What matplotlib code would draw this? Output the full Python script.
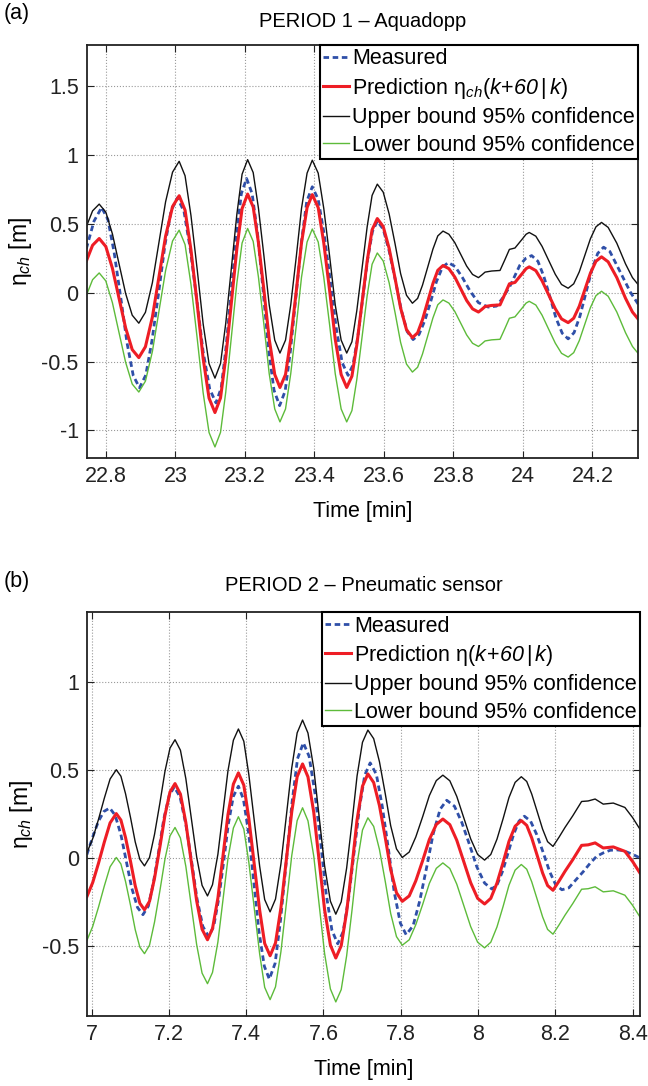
import numpy as np
import matplotlib
matplotlib.use("Agg")
import matplotlib.pyplot as plt
from matplotlib.ticker import FormatStrFormatter

plt.rcParams['font.family'] = ['Liberation Sans', 'DejaVu Sans']
plt.rcParams['mathtext.fontset'] = 'custom'
plt.rcParams['mathtext.rm'] = 'Liberation Sans'
plt.rcParams['mathtext.it'] = 'Liberation Sans:italic'
plt.rcParams['mathtext.cal'] = 'Liberation Sans:italic'  # used for italic digits
plt.rcParams['mathtext.sf'] = 'Liberation Sans'
plt.rcParams['axes.unicode_minus'] = False

# ---- panel (a): PERIOD 1 - Aquadopp ----
t1_meas = [22.744, 22.766, 22.788, 22.806, 22.824, 22.843, 22.861, 22.879, 22.897, 22.915,
           22.933, 22.952, 22.970, 22.988, 23.006, 23.025, 23.043, 23.062, 23.080, 23.099,
           23.117, 23.132, 23.146, 23.161, 23.176, 23.190, 23.205, 23.221, 23.237, 23.253,
           23.268, 23.284, 23.300, 23.316, 23.331, 23.347, 23.363, 23.378, 23.394, 23.411,
           23.428, 23.446, 23.463, 23.480, 23.497, 23.511, 23.525, 23.539, 23.553, 23.567,
           23.581, 23.598, 23.615, 23.633, 23.650, 23.667, 23.684, 23.701, 23.718, 23.735,
           23.751, 23.768, 23.785, 23.805, 23.826, 23.848, 23.872, 23.900, 23.924, 23.944,
           23.963, 23.978, 23.991, 24.008, 24.025, 24.043, 24.060, 24.078, 24.095, 24.113,
           24.130, 24.147, 24.164, 24.181, 24.198, 24.215, 24.232, 24.250, 24.270, 24.290,
           24.310, 24.336]
y1_meas = [0.32, 0.52, 0.62, 0.532, 0.293, -0.035, -0.363, -0.602, -0.69, -0.598,
           -0.345, 0.0, 0.345, 0.598, 0.69, 0.590, 0.318, -0.055, -0.428, -0.700,
           -0.80, -0.691, -0.393, 0.015, 0.423, 0.721, 0.83, 0.719, 0.418, 0.005,
           -0.408, -0.709, -0.82, -0.713, -0.423, -0.025, 0.373, 0.663, 0.77, 0.678,
           0.428, 0.085, -0.258, -0.508, -0.60, -0.525, -0.32, -0.04, 0.24, 0.445,
           0.52, 0.462, 0.305, 0.09, -0.125, -0.282, -0.34, -0.303, -0.20, -0.06,
           0.08, 0.183, 0.22, 0.19, 0.11, 0.012, -0.072, -0.104, -0.097, -0.03,
           0.05, 0.13, 0.20, 0.25, 0.27, 0.229, 0.119, -0.033, -0.184, -0.294,
           -0.335, -0.290, -0.169, -0.002, 0.165, 0.286, 0.331, 0.30, 0.20, 0.10,
           0.0, -0.10]

t1_pred = [22.744, 22.762, 22.781, 22.800, 22.819, 22.838, 22.857, 22.876, 22.895, 22.914,
           22.934, 22.953, 22.972, 22.992, 23.011, 23.028, 23.045, 23.063, 23.080, 23.097,
           23.114, 23.130, 23.145, 23.161, 23.177, 23.192, 23.208, 23.224, 23.239, 23.255,
           23.270, 23.286, 23.301, 23.317, 23.332, 23.348, 23.363, 23.379, 23.394, 23.411,
           23.427, 23.444, 23.460, 23.477, 23.493, 23.508, 23.522, 23.537, 23.552, 23.566,
           23.581, 23.598, 23.615, 23.632, 23.648, 23.665, 23.682, 23.697, 23.711, 23.726,
           23.741, 23.755, 23.770, 23.787, 23.804, 23.821, 23.838, 23.855, 23.872, 23.882,
           23.891, 23.910, 23.934, 23.948, 23.961, 23.977, 23.998, 24.009, 24.018, 24.037,
           24.055, 24.074, 24.093, 24.111, 24.130, 24.146, 24.162, 24.178, 24.194, 24.210,
           24.226, 24.245, 24.270, 24.295, 24.315, 24.336]
y1_pred = [0.23, 0.345, 0.394, 0.336, 0.178, -0.039, -0.255, -0.413, -0.471, -0.392,
           -0.177, 0.117, 0.411, 0.626, 0.705, 0.600, 0.311, -0.083, -0.476, -0.765,
           -0.870, -0.764, -0.473, -0.077, 0.320, 0.611, 0.717, 0.623, 0.366, 0.015,
           -0.337, -0.594, -0.688, -0.594, -0.338, 0.013, 0.363, 0.619, 0.713, 0.619,
           0.363, 0.013, -0.338, -0.594, -0.688, -0.606, -0.381, -0.075, 0.232, 0.457,
           0.539, 0.481, 0.323, 0.107, -0.110, -0.268, -0.326, -0.291, -0.195, -0.064,
           0.067, 0.163, 0.198, 0.175, 0.114, 0.029, -0.056, -0.117, -0.140, -0.120,
           -0.100, -0.092, -0.088, -0.010, 0.065, 0.075, 0.140, 0.175, 0.188, 0.161,
           0.087, -0.015, -0.116, -0.190, -0.217, -0.185, -0.098, 0.022, 0.142, 0.229,
           0.261, 0.225, 0.110, -0.040, -0.140, -0.205]
y1_upper = [0.48, 0.595, 0.644, 0.586, 0.428, 0.211, -0.005, -0.163, -0.221, -0.142,
            0.073, 0.367, 0.661, 0.876, 0.955, 0.850, 0.561, 0.167, -0.226, -0.515,
            -0.620, -0.514, -0.223, 0.173, 0.570, 0.861, 0.967, 0.873, 0.616, 0.265,
            -0.087, -0.344, -0.438, -0.344, -0.088, 0.263, 0.613, 0.869, 0.963, 0.869,
            0.613, 0.263, -0.088, -0.344, -0.438, -0.356, -0.131, 0.175, 0.482, 0.707,
            0.789, 0.731, 0.573, 0.357, 0.140, -0.018, -0.076, -0.041, 0.055, 0.186,
            0.317, 0.413, 0.448, 0.425, 0.364, 0.279, 0.194, 0.133, 0.110, 0.130,
            0.150, 0.158, 0.162, 0.240, 0.315, 0.325, 0.390, 0.425, 0.438, 0.411,
            0.337, 0.235, 0.134, 0.060, 0.033, 0.065, 0.152, 0.272, 0.392, 0.479,
            0.511, 0.475, 0.360, 0.210, 0.110, 0.045]
y1_lower = [-0.02, 0.095, 0.144, 0.086, -0.072, -0.289, -0.505, -0.663, -0.721, -0.642,
            -0.427, -0.133, 0.161, 0.376, 0.455, 0.350, 0.061, -0.333, -0.726, -1.015,
            -1.120, -1.014, -0.723, -0.327, 0.070, 0.361, 0.467, 0.373, 0.116, -0.235,
            -0.587, -0.844, -0.938, -0.844, -0.588, -0.237, 0.113, 0.369, 0.463, 0.369,
            0.113, -0.237, -0.588, -0.844, -0.938, -0.856, -0.631, -0.325, -0.018, 0.207,
            0.289, 0.231, 0.073, -0.143, -0.360, -0.518, -0.576, -0.541, -0.445, -0.314,
            -0.183, -0.087, -0.052, -0.075, -0.136, -0.221, -0.306, -0.367, -0.390, -0.370,
            -0.350, -0.342, -0.338, -0.260, -0.185, -0.175, -0.110, -0.075, -0.062, -0.089,
            -0.163, -0.265, -0.366, -0.440, -0.467, -0.435, -0.348, -0.228, -0.108, -0.021,
            0.011, -0.025, -0.140, -0.290, -0.390, -0.455]

# ---- panel (b): PERIOD 2 - Pneumatic sensor ----
t2_meas = [6.988, 7.003, 7.018, 7.032, 7.047, 7.061, 7.076, 7.090, 7.104, 7.119,
           7.133, 7.147, 7.160, 7.174, 7.187, 7.201, 7.214, 7.229, 7.244, 7.259,
           7.273, 7.288, 7.303, 7.316, 7.329, 7.342, 7.354, 7.367, 7.380, 7.393,
           7.407, 7.420, 7.433, 7.447, 7.460, 7.475, 7.489, 7.504, 7.519, 7.533,
           7.548, 7.563, 7.578, 7.593, 7.607, 7.622, 7.637, 7.651, 7.665, 7.679,
           7.693, 7.707, 7.721, 7.737, 7.752, 7.768, 7.783, 7.799, 7.814, 7.832,
           7.849, 7.867, 7.884, 7.902, 7.919, 7.939, 7.958, 7.978, 7.997, 8.017,
           8.036, 8.050, 8.064, 8.078, 8.092, 8.106, 8.120, 8.136, 8.152, 8.169,
           8.185, 8.201, 8.217, 8.235, 8.255, 8.273, 8.290, 8.307, 8.325, 8.342,
           8.360, 8.376, 8.402, 8.419]
y2_meas = [0.02, 0.12, 0.21, 0.265, 0.285, 0.244, 0.133, -0.019, -0.171, -0.282,
           -0.323, -0.274, -0.141, 0.041, 0.223, 0.356, 0.405, 0.348, 0.192, -0.021,
           -0.234, -0.390, -0.447, -0.390, -0.233, -0.019, 0.195, 0.352, 0.409, 0.335,
           0.134, -0.141, -0.415, -0.616, -0.690, -0.600, -0.354, -0.017, 0.320, 0.566,
           0.656, 0.579, 0.370, 0.084, -0.203, -0.412, -0.489, -0.420, -0.231, 0.027,
           0.284, 0.473, 0.542, 0.476, 0.297, 0.053, -0.192, -0.371, -0.437, -0.386,
           -0.246, -0.054, 0.138, 0.278, 0.329, 0.295, 0.203, 0.076, -0.051, -0.143,
           -0.177, -0.149, -0.073, 0.031, 0.134, 0.210, 0.238, 0.210, 0.133, 0.029,
           -0.076, -0.153, -0.181, -0.170, -0.120, -0.076, -0.030, 0.010, 0.030, 0.044,
           0.046, 0.042, 0.019, 0.000]

t2_pred = [6.988, 7.003, 7.018, 7.033, 7.048, 7.064, 7.076, 7.088, 7.101, 7.113,
           7.125, 7.137, 7.150, 7.163, 7.177, 7.190, 7.203, 7.216, 7.230, 7.244,
           7.258, 7.272, 7.286, 7.300, 7.313, 7.327, 7.340, 7.353, 7.367, 7.380,
           7.394, 7.407, 7.421, 7.435, 7.448, 7.462, 7.476, 7.490, 7.504, 7.518,
           7.532, 7.546, 7.560, 7.575, 7.589, 7.603, 7.618, 7.632, 7.646, 7.660,
           7.674, 7.687, 7.701, 7.715, 7.730, 7.745, 7.760, 7.774, 7.789, 7.804,
           7.822, 7.839, 7.857, 7.874, 7.892, 7.909, 7.927, 7.945, 7.963, 7.981,
           7.999, 8.017, 8.033, 8.049, 8.065, 8.080, 8.096, 8.112, 8.126, 8.139,
           8.153, 8.167, 8.180, 8.194, 8.210, 8.225, 8.245, 8.268, 8.285, 8.303,
           8.324, 8.350, 8.380, 8.400, 8.419]
y2_pred = [-0.22, -0.14, -0.03, 0.09, 0.20, 0.253, 0.216, 0.116, -0.021, -0.158,
           -0.258, -0.295, -0.247, -0.115, 0.065, 0.244, 0.376, 0.424, 0.364, 0.202,
           -0.021, -0.244, -0.406, -0.466, -0.402, -0.228, 0.010, 0.247, 0.421, 0.485,
           0.415, 0.225, -0.036, -0.297, -0.487, -0.557, -0.484, -0.284, -0.011, 0.263,
           0.463, 0.536, 0.462, 0.260, -0.017, -0.294, -0.496, -0.570, -0.500, -0.308,
           -0.046, 0.217, 0.409, 0.479, 0.430, 0.298, 0.116, -0.066, -0.198, -0.247,
           -0.216, -0.130, -0.013, 0.105, 0.191, 0.222, 0.190, 0.101, -0.020, -0.141,
           -0.230, -0.262, -0.230, -0.143, -0.025, 0.094, 0.181, 0.213, 0.186, 0.114,
           0.015, -0.085, -0.157, -0.184, -0.130, -0.076, -0.010, 0.072, 0.075, 0.086,
           0.057, 0.063, 0.038, -0.020, -0.086]
y2_upper = [0.03, 0.11, 0.22, 0.34, 0.45, 0.503, 0.466, 0.366, 0.229, 0.092,
            -0.008, -0.045, 0.003, 0.135, 0.315, 0.494, 0.626, 0.674, 0.614, 0.452,
            0.229, 0.006, -0.156, -0.216, -0.152, 0.022, 0.260, 0.497, 0.671, 0.735,
            0.665, 0.475, 0.214, -0.047, -0.237, -0.307, -0.234, -0.034, 0.239, 0.513,
            0.713, 0.786, 0.712, 0.510, 0.233, -0.044, -0.246, -0.320, -0.250, -0.058,
            0.204, 0.467, 0.659, 0.729, 0.680, 0.548, 0.366, 0.184, 0.052, 0.003,
            0.034, 0.120, 0.237, 0.355, 0.441, 0.472, 0.440, 0.351, 0.230, 0.109,
            0.020, -0.012, 0.020, 0.107, 0.225, 0.344, 0.431, 0.463, 0.436, 0.364,
            0.265, 0.165, 0.093, 0.066, 0.120, 0.174, 0.240, 0.322, 0.325, 0.336,
            0.307, 0.313, 0.288, 0.230, 0.164]
y2_lower = [-0.47, -0.39, -0.28, -0.16, -0.05, 0.003, -0.034, -0.134, -0.271, -0.408,
            -0.508, -0.545, -0.497, -0.365, -0.185, -0.006, 0.126, 0.174, 0.114, -0.048,
            -0.271, -0.494, -0.656, -0.716, -0.652, -0.478, -0.240, -0.003, 0.171, 0.235,
            0.165, -0.025, -0.286, -0.547, -0.737, -0.807, -0.734, -0.534, -0.261, 0.013,
            0.213, 0.286, 0.212, 0.010, -0.267, -0.544, -0.746, -0.820, -0.750, -0.558,
            -0.296, -0.033, 0.159, 0.229, 0.180, 0.048, -0.134, -0.316, -0.448, -0.497,
            -0.466, -0.380, -0.263, -0.145, -0.059, -0.028, -0.060, -0.149, -0.270, -0.391,
            -0.480, -0.512, -0.480, -0.393, -0.275, -0.156, -0.069, -0.037, -0.064, -0.136,
            -0.235, -0.335, -0.407, -0.434, -0.380, -0.326, -0.260, -0.178, -0.175, -0.164,
            -0.193, -0.187, -0.212, -0.270, -0.336]

xticks_a = [22.8, 23, 23.2, 23.4, 23.6, 23.8, 24, 24.2]
yticks_a = [-1, -0.5, 0, 0.5, 1, 1.5]
xticks_b = [7, 7.2, 7.4, 7.6, 7.8, 8, 8.2, 8.4]
yticks_b = [-0.5, 0, 0.5, 1]

labels_a = ['Measured', r'Prediction $\mathrm{η}_{ch}(k\!+\!\mathcal{60}\,|\,k)$',
            'Upper bound 95% confidence', 'Lower bound 95% confidence']
labels_b = ['Measured', r'Prediction $\mathrm{η}(k\!+\!\mathcal{60}\,|\,k)$',
            'Upper bound 95% confidence', 'Lower bound 95% confidence']

C_MEAS = '#2f4fa8'
C_PRED = '#ee1d25'
C_UP = '#111111'
C_LOW = '#5dbb3a'
FS = 15.5

fig = plt.figure(figsize=(6.48, 10.86), dpi=100)
ax_a = fig.add_axes([0.1343, 0.5783, 0.8503, 0.3803])
ax_b = fig.add_axes([0.1347, 0.0645, 0.8529, 0.3717])


def draw(ax, tm, ym, tp, yp, yu, yl, labels, xlim, ylim, xt, yt, title, pad, lspace):
    ax.plot(tm, ym, color=C_MEAS, lw=2.0, ls=(0, (2.0, 1.3)), label=labels[0])
    ax.plot(tp, yp, color=C_PRED, lw=2.2, solid_joinstyle='round', label=labels[1])
    ax.plot(tp, yu, color=C_UP, lw=1.0, solid_joinstyle='round', label=labels[2])
    ax.plot(tp, yl, color=C_LOW, lw=1.0, solid_joinstyle='round', label=labels[3])
    ax.set_xlim(*xlim)
    ax.set_ylim(*ylim)
    ax.set_xticks(xt)
    ax.set_yticks(yt)
    ax.xaxis.set_major_formatter(FormatStrFormatter('%g'))
    ax.yaxis.set_major_formatter(FormatStrFormatter('%g'))
    ax.grid(True, ls=':', color='#9a9a9a', lw=0.8)
    ax.tick_params(direction='in', top=True, right=True, length=5, width=0.8,
                   labelsize=FS, pad=6, colors='#222222')
    for s in ax.spines.values():
        s.set_linewidth(1.3)
        s.set_color('#222222')
    ax.set_xlabel('Time [min]', fontsize=FS, labelpad=10)
    ax.set_ylabel(r'$\mathrm{η}_{ch}$ [m]', fontsize=FS + 1, labelpad=5)
    ax.set_title(title, fontsize=14.5, pad=pad)
    leg = ax.legend(loc='upper right', bbox_to_anchor=(1.0, 1.0), borderaxespad=0,
                    fontsize=FS, fancybox=False, framealpha=1, edgecolor='black',
                    handlelength=1.2, handletextpad=0.15, borderpad=0.15,
                    labelspacing=lspace)
    leg.get_frame().set_linewidth(1.5)


draw(ax_a, t1_meas, y1_meas, t1_pred, y1_pred, y1_upper, y1_lower, labels_a,
     (22.746, 24.331), (-1.2, 1.8), xticks_a, yticks_a, 'PERIOD 1 – Aquadopp', 13, 0.3)
draw(ax_b, t2_meas, y2_meas, t2_pred, y2_pred, y2_upper, y2_lower, labels_b,
     (6.989, 8.419), (-0.9, 1.4), xticks_b, yticks_b, 'PERIOD 2 – Pneumatic sensor', 15, 0.3)

fig.text(0.006, 1 - 14 / 1086, '(a)', fontsize=FS, va='center', ha='left')
fig.text(0.006, 1 - 582 / 1086, '(b)', fontsize=FS, va='center', ha='left')

fig.savefig('out.png', dpi=100)
